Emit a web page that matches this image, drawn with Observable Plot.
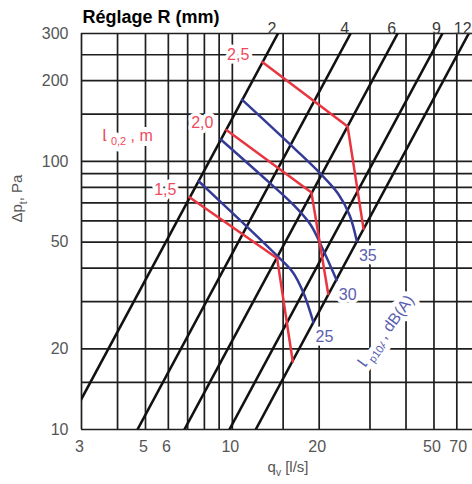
<!DOCTYPE html>
<html><head><meta charset="utf-8">
<script src="https://cdn.jsdelivr.net/npm/d3@7"></script>
<script src="https://cdn.jsdelivr.net/npm/@observablehq/plot@0.6"></script>
<style>html,body{margin:0;padding:0;background:#fff;}</style>
</head><body><div id="chart"></div>
<script>
// ---- grid & ticks ----
const xGrid = [3,4,5,6,7,8,9,10,15,20,30,40,50,60];
const yGrid = [10,15,20,30,40,50,60,70,80,90,100,150,200,250,300];
const xTicks = [3,5,6,10,20,50];
const xTickLast = [70];
const yTicks = [10,20,50,100,200,300];

// ---- damper setting lines R (mm): q at 10 Pa and q at 300 Pa ----
const settings = ["2","4","6","9","12"];
const qLow  = [2.63, 4.69, 6.82, 9.77, 12.05];
const qHigh = [14.4, 25.7, 37.4, 53.5, 66.0];

// ---- throw L0,2 (m) : red ----
const throwLabels = ["2,5","2,0","1,5"];
const throwQ = [[12.7,25.1,28.5],[9.54,18.8,21.5],[7.1,14.3,16.2]];
const throwP = [[235,135,56],[131,76.5,32],[73.5,43.5,17.9]];

// ---- sound level Lp10A dB(A) : blue ----
const soundLabels = ["35","30","25"];
const soundQ = [[10.8,16.6,20.2,23.3,25.5,27.0],[9.1,13.35,16.3,18.7,20.5,23.0],[7.63,10.7,14.1,16.2,17.65,19.1]];
const soundP = [[170,110.5,90,75.6,63,50.5],[121,83.9,68.8,57.9,47.5,36],[84.5,60,45.1,38.6,32.3,25.1]];

const rTable = settings.map((s,i)=>({s, q1:qLow[i], q2:qHigh[i]}));
const throwRows = throwLabels.flatMap((l,i)=>throwQ[i].map((q,j)=>({l,q,p:throwP[i][j]})));
const throwStart = throwLabels.map((l,i)=>({l,q:throwQ[i][0],p:throwP[i][0]}));
const soundRows = soundLabels.flatMap((l,i)=>soundQ[i].map((q,j)=>({l,q,p:soundP[i][j]})));
const soundEnd = soundLabels.map((l,i)=>({l,q:soundQ[i].at(-1),p:soundP[i].at(-1)}));

const RED = "#e8353f", RED_T = "#ef4a5c", BLUE = "#343b96", BLUE_T = "#5a60b0";
const GRAY = "#555";

const svg = Plot.plot({
  width: 472, height: 484,
  marginLeft: 81, marginRight: 0, marginTop: 33, marginBottom: 55,
  x: {type: "log", domain: [3, 68]},
  y: {type: "log", domain: [10, 300]},
  style: {fontFamily: "'Liberation Sans', Arial, sans-serif", background: "white"},
  marks: [
    Plot.ruleX(xGrid, {stroke: "#1e1e1e", strokeWidth: 1.7}),
    Plot.ruleY(yGrid, {stroke: "#1e1e1e", strokeWidth: 1.7}),
    Plot.axisY({ticks: yTicks, tickSize: 0, tickPadding: 13, fontSize: 16, fill: GRAY, label: null, tickFormat: d => String(d)}),
    Plot.axisX({ticks: xTicks, tickSize: 0, tickPadding: 11, fontSize: 16, fill: GRAY, label: null, dx: -2, tickFormat: d => String(d)}),
    Plot.axisX({ticks: xTickLast, tickSize: 0, tickPadding: 11, fontSize: 16, fill: GRAY, label: null, textAnchor: "end", dx: -9, tickFormat: d => String(d)}),
    Plot.link(rTable, {x1: "q1", y1: () => 10, x2: "q2", y2: () => 300, stroke: "#111", strokeWidth: 2.6, clip: true}),
    Plot.text(rTable, {x: "q2", frameAnchor: "top", text: "s", dy: -11, dx: -6, fontSize: 16, fill: "#3a3a3a"}),
    Plot.line(soundRows, {x: "q", y: "p", z: "l", stroke: BLUE, strokeWidth: 2.5, curve: "catmull-rom"}),
    Plot.line(throwRows, {x: "q", y: "p", z: "l", stroke: RED, strokeWidth: 2.5}),
    Plot.text(throwStart, {x: "q", y: "p", text: "l", textAnchor: "end", dx: -13, dy: -7, fontSize: 16, fill: RED_T, stroke: "white", strokeWidth: 7, paintOrder: "stroke"}),
    Plot.text(soundEnd, {x: "q", y: "p", text: "l", dx: 11, dy: 15, fontSize: 16, fill: BLUE_T, stroke: "white", strokeWidth: 7, paintOrder: "stroke"}),
    Plot.text(["L_{0,2} , m"], {x: () => 4.33, y: () => 124.6, text: d => d, fontSize: 16, fill: RED_T, stroke: "white", strokeWidth: 10, paintOrder: "stroke"}),
    Plot.text(["L_{p10A}, dB(A)"], {x: () => 34, y: () => 23.3, text: d => d, rotate: -54, fontSize: 16, fill: BLUE_T, stroke: "white", strokeWidth: 10, paintOrder: "stroke"}),
    Plot.text(["Δp_{t}, Pa"], {frameAnchor: "left", text: d => d, rotate: -90, dx: -64, dy: -9, fontSize: 15, fill: GRAY}),
    Plot.text(["q_{v} [l/s]"], {frameAnchor: "bottom", text: d => d, dx: 11, dy: 42, fontSize: 15, fill: GRAY}),
    Plot.text(["Réglage R (mm)"], {frameAnchor: "top-left", text: d => d, textAnchor: "start", lineAnchor: "middle", dx: 1, dy: -16, fontSize: 18, fontWeight: "bold", fill: "#000"})
  ]
});
document.getElementById("chart").appendChild(svg);

// subscripts as real tspans
d3.select(svg).selectAll("text").each(function(){
  const t = this.textContent;
  if (!t.includes("_{")) return;
  const target = this.querySelector("tspan") || this;
  const fs = parseFloat(getComputedStyle(this).fontSize) || 15;
  target.textContent = "";
  const parts = t.split(/(_\{[^}]*\})/).filter(s => s.length);
  let down = false;
  for (const p of parts) {
    const ts = d3.select(target).append("tspan");
    if (p.startsWith("_{")) {
      ts.text(p.slice(2, -1)).attr("font-size", fs * 0.68);
      if (!down) ts.attr("dy", fs * 0.28);
      down = true;
    } else {
      ts.text(p);
      if (down) { ts.attr("dy", -fs * 0.28); down = false; }
    }
  }
});
</script>
</body></html>
